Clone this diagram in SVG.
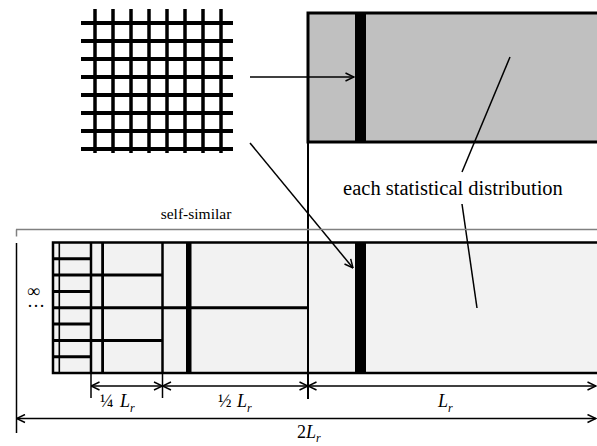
<svg xmlns="http://www.w3.org/2000/svg" width="597" height="446" viewBox="0 0 597 446">
<style>
.serif{font-family:"Liberation Serif","Times New Roman",serif;fill:#000}
.it{font-style:italic}
.ln{stroke:#000;fill:none;stroke-width:1.5}
.dv{stroke:#000;stroke-width:2.5}
.dh{stroke:#000;stroke-width:3}
.gv{stroke:#000;stroke-width:3.5}
.gh{stroke:#000;stroke-width:4}
</style>
<defs>
<marker id="ah" viewBox="0 0 10 10" refX="9.5" refY="5" markerWidth="10" markerHeight="10" markerUnits="userSpaceOnUse" orient="auto-start-reverse">
<path d="M1,1 L9.5,5 L1,9" fill="none" stroke="#000" stroke-width="1.5"/>
</marker>
</defs>
<rect width="597" height="446" fill="#fff"/>

<g id="grid">
<line class="gh" x1="81" y1="23" x2="233" y2="23"/>
<line class="gh" x1="81" y1="41" x2="233" y2="41"/>
<line class="gh" x1="81" y1="59" x2="233" y2="59"/>
<line class="gh" x1="81" y1="77" x2="233" y2="77"/>
<line class="gh" x1="81" y1="95" x2="233" y2="95"/>
<line class="gh" x1="81" y1="113" x2="233" y2="113"/>
<line class="gh" x1="81" y1="131" x2="233" y2="131"/>
<line class="gh" x1="81" y1="149" x2="233" y2="149"/>
<line class="gv" x1="95" y1="9" x2="95" y2="153"/>
<line class="gv" x1="113" y1="9" x2="113" y2="153"/>
<line class="gv" x1="131" y1="9" x2="131" y2="153"/>
<line class="gv" x1="149" y1="9" x2="149" y2="153"/>
<line class="gv" x1="167" y1="9" x2="167" y2="153"/>
<line class="gv" x1="185" y1="9" x2="185" y2="153"/>
<line class="gv" x1="203" y1="9" x2="203" y2="153"/>
<line class="gv" x1="221" y1="9" x2="221" y2="153"/>
</g>

<g id="top-panel">
<rect x="308" y="13" width="300" height="129" fill="#c0c0c0" stroke="#000" stroke-width="3"/>
<rect x="355" y="13" width="11" height="129" fill="#000"/>
</g>

<g id="bottom-panel">
<rect x="53" y="242.5" width="560" height="130.5" fill="#f2f2f2" stroke="#000" stroke-width="2.5"/>
<line class="dh" x1="53" y1="258.8" x2="91" y2="258.8"/>
<line class="dh" x1="53" y1="275.1" x2="162" y2="275.1"/>
<line class="dh" x1="53" y1="291.4" x2="91" y2="291.4"/>
<line class="dh" x1="53" y1="307.8" x2="308" y2="307.8"/>
<line class="dh" x1="53" y1="324.1" x2="91" y2="324.1"/>
<line class="dh" x1="53" y1="340.4" x2="162" y2="340.4"/>
<line class="dh" x1="53" y1="356.7" x2="91" y2="356.7"/>
<rect x="58.5" y="242.5" width="1.6" height="130.5" fill="#000"/>
<line class="dv" x1="91" y1="242.5" x2="91" y2="373"/>
<rect x="101.2" y="242.5" width="2.8" height="130.5" fill="#000"/>
<line class="dv" x1="162.5" y1="242.5" x2="162.5" y2="373"/>
<rect x="186" y="242.5" width="5.5" height="130.5" fill="#000"/>
<rect x="355" y="242.5" width="11" height="130.5" fill="#000"/>
</g>

<g id="connectors">
<line class="ln" x1="250" y1="77" x2="354" y2="77" marker-end="url(#ah)"/>
<line class="ln" x1="250" y1="143" x2="353" y2="268" marker-end="url(#ah)"/>
<line class="ln" x1="510" y1="57" x2="462" y2="172"/>
<line class="ln" x1="462" y1="204" x2="477" y2="308"/>
<line x1="308" y1="142" x2="308" y2="399" stroke="#000" stroke-width="2"/>
<line x1="16" y1="229.5" x2="597" y2="229.5" stroke="#808080" stroke-width="1.5"/>
<line x1="16.5" y1="229.5" x2="16.5" y2="236.5" stroke="#808080" stroke-width="1.5"/>
<line x1="16.5" y1="243" x2="16.5" y2="433" stroke="#000" stroke-width="1.5"/>
<line x1="91" y1="373" x2="91" y2="398" stroke="#000" stroke-width="1.5"/>
<line x1="162.5" y1="373" x2="162.5" y2="398" stroke="#000" stroke-width="1.5"/>
<line class="ln" x1="91" y1="386" x2="162.5" y2="386" marker-start="url(#ah)" marker-end="url(#ah)"/>
<line class="ln" x1="162.5" y1="386" x2="308" y2="386" marker-start="url(#ah)" marker-end="url(#ah)"/>
<line class="ln" x1="308" y1="386" x2="596" y2="386" marker-start="url(#ah)" marker-end="url(#ah)"/>
<line class="ln" x1="16.5" y1="418.5" x2="596" y2="418.5" marker-start="url(#ah)" marker-end="url(#ah)"/>
</g>

<g id="labels">
<text class="serif" x="453" y="195" font-size="20.5" text-anchor="middle">each statistical distribution</text>
<text class="serif" x="196" y="219" font-size="15.5" text-anchor="middle">self-similar</text>
<text class="serif" x="27" y="297" font-size="18">∞</text>
<text class="serif" x="27" y="307" font-size="18">…</text>
<text class="serif" font-size="18" y="407"><tspan x="100">¼</tspan><tspan x="120" class="it">L</tspan><tspan class="it" font-size="12" dy="5">r</tspan></text>
<text class="serif" font-size="18" y="407"><tspan x="218">½</tspan><tspan x="237" class="it">L</tspan><tspan class="it" font-size="12" dy="5">r</tspan></text>
<text class="serif" font-size="18" y="407"><tspan x="438" class="it">L</tspan><tspan class="it" font-size="12" dy="5">r</tspan></text>
<text class="serif" font-size="18" y="438"><tspan x="297">2</tspan><tspan class="it">L</tspan><tspan class="it" font-size="12" dy="4">r</tspan></text>
</g>
</svg>
